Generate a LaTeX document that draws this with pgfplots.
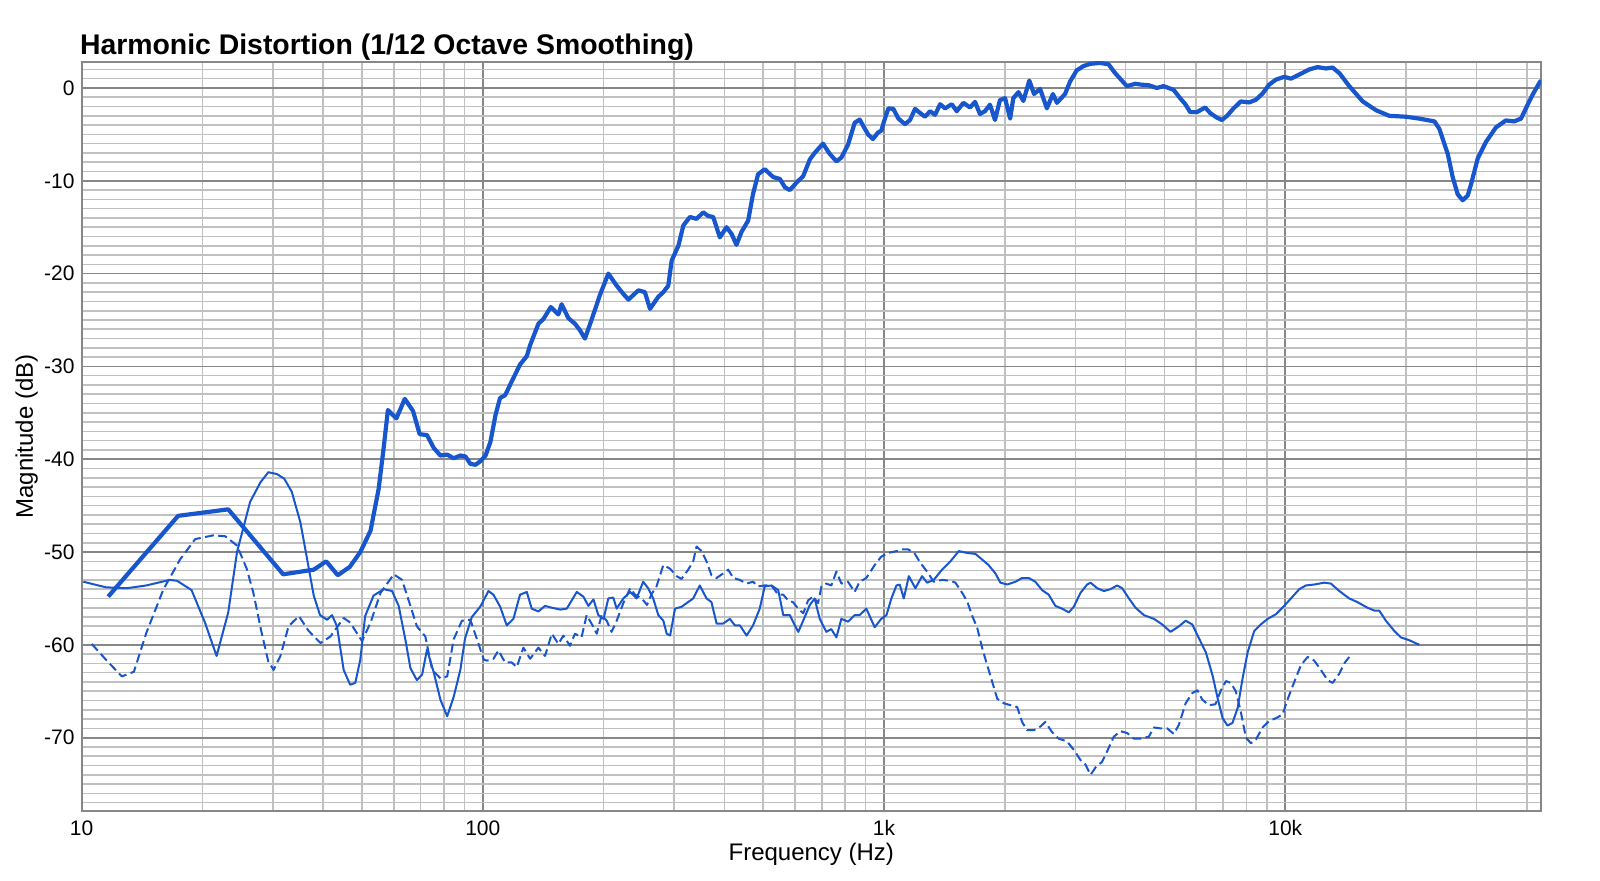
\documentclass[border=0pt]{standalone}
\usepackage{fontspec}
\setmainfont{Liberation Sans}
\usepackage{pgfplots}
\pgfplotsset{compat=1.18}
\definecolor{curve}{RGB}{24,86,206}
\definecolor{majgrid}{RGB}{135,135,135}
\definecolor{mingrid}{RGB}{192,192,192}
\begin{document}
\begin{tikzpicture}
\path[use as bounding box] (-40.8pt,-35pt) rectangle (759.2pt,405.5pt);
\begin{axis}[
  at={(0,0)}, anchor=south west,
  scale only axis, width=729.7pt, height=374.5pt,
  xmode=log, xmin=10, xmax=43400, ymin=-77.9, ymax=2.8,
  xtick={10,100,1000,10000}, xticklabels={10,100,1k,10k},
  minor xtick={20,30,40,50,60,70,80,90,200,300,400,500,600,700,800,900,2000,3000,4000,5000,6000,7000,8000,9000,20000,30000,40000},
  ytick={-70,-60,-50,-40,-30,-20,-10,0},
  yticklabels={-70,-60,-50,-40,-30,-20,-10,0},
  minor ytick={-77,-76,...,2},
  grid=both,
  major grid style={draw=majgrid, line width=0.9pt},
  minor grid style={draw=mingrid, line width=0.8pt},
  axis line style={draw=majgrid, line width=1pt},
  major tick length=0pt, minor tick length=0pt,
  tick style={draw=none},
  ticklabel style={font=\fontsize{10.5}{12}\selectfont},
  xticklabel style={yshift=-1.2pt},
  clip=true,
  every axis plot/.append style={line join=round, color=curve},
]
% fundamental (thick)
\addplot[line width=2.1pt] coordinates {
(11.65,-54.8)(17.4,-46.1)(23.2,-45.4)(31.8,-52.4)(37.9,-51.9)(40.7,-51.0)(43.5,-52.5)(46.6,-51.6)(49.5,-50.0)(52.5,-47.7)(55.0,-43.2)(56.6,-38.8)(58.0,-34.7)(60.9,-35.6)(63.9,-33.5)(67.0,-34.8)(69.6,-37.3)(72.6,-37.4)(75.5,-38.8)(78.4,-39.6)(81.5,-39.5)(84.6,-39.9)(87.9,-39.6)(90.5,-39.7)(93.1,-40.5)(95.9,-40.6)(98.7,-40.2)(101.6,-39.6)(104.5,-38.1)(107.6,-35.2)(110.4,-33.4)(113.7,-33.1)(118.1,-31.6)(123.8,-29.8)(128.7,-28.9)(131.2,-27.7)(137.6,-25.4)(141.6,-24.9)(147.7,-23.6)(154.3,-24.4)(157.2,-23.3)(163.4,-24.8)(169.7,-25.4)(174.6,-26.1)(179.7,-27.0)(186.6,-25.0)(195.9,-22.3)(205.5,-20.0)(215.6,-21.3)(224.1,-22.2)(230.6,-22.8)(244.2,-21.8)(253.5,-22.0)(261.0,-23.8)(273.8,-22.5)(281.8,-22.0)(289.9,-21.3)(295.6,-18.6)(307.2,-17.0)(316.2,-14.8)(328.3,-13.9)(341.0,-14.1)(354.3,-13.4)(364.6,-13.8)(375.2,-13.9)(389.8,-16.1)(404.9,-15.0)(416.6,-15.7)(428.8,-16.9)(441.4,-15.5)(458.4,-14.3)(471.6,-11.4)(485.4,-9.3)(504.2,-8.75)(529.3,-9.6)(550,-9.8)(566.1,-10.7)(582.5,-11.0)(605.2,-10.2)(628.7,-9.5)(653.3,-7.7)(671.6,-7.0)(704.6,-6.0)(732.3,-7.1)(760.9,-7.9)(782.9,-7.5)(813.4,-6.1)(845.1,-3.75)(869.4,-3.4)(912.3,-5.0)(938.4,-5.5)(966.1,-4.8)(984.4,-4.6)
(1000,-3.6)(1025,-2.2)(1055,-2.25)(1086,-3.3)(1128,-3.9)(1161,-3.45)(1195,-2.25)(1230,-2.7)(1265,-3.1)(1303,-2.5)(1340,-2.9)(1380,-1.75)(1420,-2.2)(1475,-1.75)(1518,-2.5)(1577,-1.6)(1638,-2.1)(1686,-1.5)(1734,-2.8)(1785,-2.5)(1837,-1.8)(1891,-3.45)(1946,-1.3)(2003,-1.1)(2062,-3.3)(2100,-1.1)(2163,-0.45)(2225,-1.4)(2302,0.8)(2365,-0.65)(2449,-0.1)(2546,-2.2)(2636,-0.65)(2698,-1.6)(2826,-0.65)(2909,0.7)(3022,1.9)(3139,2.35)(3263,2.6)(3456,2.7)(3627,2.55)(3767,1.6)(3878,1.0)(4030,0.2)(4227,0.45)(4393,0.35)(4563,0.3)(4786,0)(4975,0.2)(5117,0)(5268,-0.2)(5470,-1.1)(5636,-1.75)(5796,-2.6)(6025,-2.6)(6315,-2.1)(6500,-2.7)(6757,-3.2)(6950,-3.45)(7160,-3.0)(7433,-2.2)(7750,-1.45)(8130,-1.56)(8450,-1.27)(8780,-0.6)(9120,0.36)(9480,0.9)(9940,1.2)(10330,1.0)(10840,1.45)(11480,2.0)(12040,2.25)(12630,2.1)(13120,2.2)(13640,1.6)(14440,0.2)(15600,-1.45)(16840,-2.4)(18170,-3.0)(20000,-3.1)(21570,-3.3)(23540,-3.6)(24210,-4.4)(25410,-7.1)(26140,-9.6)(26900,-11.45)(27680,-12.1)(28490,-11.6)(29040,-10.4)(30180,-7.6)(31660,-5.8)(33510,-4.25)(35460,-3.5)(37200,-3.6)(38690,-3.3)(40200,-1.8)(41390,-0.7)(42980,0.55)(43400,0.8)
};
% second harmonic (thin solid)
\addplot[line width=1.0pt] coordinates {
(10.1,-53.2)(11.5,-53.8)(12.95,-53.9)(14.5,-53.6)(16.6,-53.0)(17.3,-53.1)(18.8,-54.1)(20.3,-57.6)(21.7,-61.2)(23.2,-56.5)(24.4,-50.0)(26.3,-44.6)(27.9,-42.5)(29.2,-41.4)(30.7,-41.6)(32.0,-42.1)(33.4,-43.5)(35.1,-46.8)(36.5,-50.8)(37.9,-54.7)(39.3,-56.8)(40.9,-57.3)(42.1,-56.8)(43.3,-58.0)(45.0,-62.7)(46.7,-64.3)(48.1,-64.1)(49.5,-61.6)(50.9,-56.9)(53.4,-54.7)(56.6,-54.0)(59.4,-54.2)(61.7,-55.8)(64.1,-59.4)(66.0,-62.5)(68.5,-63.8)(70.6,-63.2)(72.6,-60.5)(75.5,-63.0)(78.4,-65.9)(81.5,-67.7)(84.6,-65.6)(87.9,-62.7)(90.3,-59.3)(93.9,-57.0)(98.5,-55.9)(103.3,-54.2)(106.3,-54.6)(110.5,-55.9)(114.7,-57.9)(119.2,-57.2)(123.8,-54.6)(128.7,-54.3)(132.4,-56.1)(137.6,-56.4)(142.9,-55.8)(148.6,-56.0)(155.9,-56.2)(161.9,-56.1)(171.5,-54.3)(178.1,-54.8)(183.3,-55.8)(188.7,-55.1)(194.1,-56.8)(200,-57.2)(205.5,-55.0)(211.4,-54.9)(215.6,-56.1)(224,-55.0)(233,-54.3)(241.7,-55.0)(251,-53.2)(258.4,-53.9)(265.9,-55.0)(273.8,-56.8)(281.8,-57.4)(287.3,-58.8)(293,-59.0)(301.3,-56.1)(312.8,-55.9)(322.2,-55.5)(334.5,-55.0)(347.4,-53.6)(361.1,-55.0)(371.5,-55.4)(382.5,-57.7)(397.4,-57.7)(412.9,-57.2)(424.8,-57.9)(437.3,-57.9)(454.4,-59.0)(471.6,-57.9)(490,-56.1)(504.2,-53.7)(524.4,-53.6)(544.9,-54.1)(560.9,-56.8)(582.5,-56.8)(599.4,-57.9)(611.4,-58.6)(628.7,-57.4)(653.3,-55.7)(671.6,-55.0)(691.4,-57.2)(718.2,-58.6)(738.9,-58.3)(760.9,-59.2)(782.9,-57.2)(813.4,-57.5)(845,-56.8)(869,-56.8)(903.4,-56.1)(947.8,-58.1)(984,-57.2)(1014,-56.8)(1043,-55.0)(1074,-53.6)(1094,-53.5)(1120,-55.0)(1153,-52.6)(1197,-53.9)(1244,-52.6)(1280,-53.3)(1330,-53.0)(1395,-51.9)(1464,-51.0)(1536,-49.9)(1611,-50.1)(1690,-50.2)(1755,-50.8)(1822,-51.4)(1895,-52.3)(1950,-53.3)(2027,-53.5)(2127,-53.2)(2208,-52.8)(2295,-52.8)(2383,-53.2)(2477,-54.1)(2574,-54.6)(2673,-55.8)(2778,-56.1)(2888,-56.5)(2971,-55.9)(3087,-54.4)(3208,-53.5)(3272,-53.3)(3399,-53.9)(3532,-54.2)(3668,-54.0)(3811,-53.6)(3924,-53.9)(4077,-55.0)(4236,-56.0)(4444,-56.8)(4707,-57.2)(4935,-57.8)(5178,-58.6)(5433,-58.0)(5646,-57.4)(5865,-57.8)(6094,-59.3)(6340,-60.8)(6590,-63.3)(6780,-65.7)(6980,-67.9)(7180,-68.7)(7390,-68.4)(7610,-66.8)(7830,-63.6)(8060,-60.8)(8370,-58.5)(8690,-57.8)(9040,-57.2)(9480,-56.7)(9940,-55.8)(10330,-55.0)(10840,-54.0)(11260,-53.6)(11810,-53.5)(12500,-53.3)(13000,-53.4)(13640,-54.2)(14440,-55.0)(15140,-55.4)(16030,-56.0)(16670,-56.3)(17150,-56.3)(17820,-57.4)(18700,-58.5)(19420,-59.2)(20380,-59.5)(21590,-60.0)
};
% third harmonic (dashed)
\addplot[line width=1.0pt, dash pattern=on 4.5pt off 2.2pt] coordinates {
(10.6,-59.9)(11.5,-61.6)(12.6,-63.4)(13.5,-62.9)(14.5,-58.7)(16.0,-54.0)(17.6,-50.8)(19.2,-48.6)(21.3,-48.2)(22.8,-48.3)(24.4,-49.3)(25.8,-51.8)(26.8,-54.4)(28.1,-58.7)(29.2,-61.8)(30.1,-62.7)(31.3,-61.2)(32.8,-58.0)(34.8,-56.9)(36.8,-58.5)(39.4,-59.8)(41.7,-59.1)(45.0,-57.1)(46.7,-57.6)(50.0,-59.6)(52.5,-57.6)(55.6,-54.4)(60.0,-52.4)(62.9,-53.0)(66.0,-55.8)(68.5,-58.0)(71.9,-59.1)(74.8,-62.7)(78.4,-63.6)(81.5,-63.4)(84.6,-59.4)(88.7,-57.4)(93.1,-57.3)(96.7,-59.4)(100.6,-61.6)(102.3,-61.7)(106.3,-61.5)(109.4,-60.6)(113.6,-61.9)(118.1,-61.9)(121.5,-62.4)(126.2,-60.3)(131.2,-61.5)(137.6,-60.3)(142.9,-61.2)(148.6,-58.8)(154.3,-59.9)(158.8,-59.0)(164.9,-60.1)(169.7,-58.8)(176.2,-59.2)(181.5,-56.8)(186.6,-57.7)(192.3,-58.8)(197.8,-56.8)(203.6,-57.4)(209.4,-58.6)(215.6,-57.4)(224,-55.5)(233,-53.9)(239.6,-54.6)(249,-55.0)(256.6,-55.7)(263.6,-54.5)(271,-53.7)(281.8,-51.4)(293,-51.8)(304.3,-52.6)(312.8,-52.9)(325,-51.9)(334.5,-51.0)(341,-49.4)(350.9,-49.9)(361,-51.0)(371.5,-52.5)(382.5,-52.8)(397.4,-52.3)(409,-51.9)(421,-52.8)(437,-53.0)(454,-53.4)(471.6,-53.2)(485,-53.7)(504,-53.6)(524,-53.6)(545,-54.6)(561,-54.6)(576.5,-55.2)(593,-55.4)(611,-56.1)(629,-56.6)(647,-55.2)(665.6,-54.8)(685,-55.5)(698.5,-53.7)(718,-53.4)(739,-53.6)(761,-52.1)(783,-53.4)(813,-53.2)(845,-54.3)(869,-53.2)(903,-52.8)(948,-51.4)(984,-50.5)(1023,-50.1)(1074,-49.9)(1115,-49.7)(1147,-49.7)(1190,-50.1)(1233,-51.2)(1280,-52.1)(1330,-53.2)(1395,-53.0)(1464,-53.1)(1507,-53.3)(1566,-54.4)(1611,-55.3)(1660,-56.9)(1708,-58.2)(1758,-60.4)(1808,-62.2)(1861,-64.0)(1915,-65.8)(1990,-66.3)(2066,-66.5)(2147,-66.7)(2208,-68.3)(2274,-69.2)(2360,-69.2)(2454,-68.8)(2523,-68.3)(2623,-69.4)(2723,-70.1)(2857,-70.4)(2971,-71.3)(3087,-72.4)(3178,-72.9)(3272,-74.0)(3367,-73.2)(3496,-72.6)(3596,-71.5)(3738,-69.9)(3884,-69.3)(4035,-69.5)(4194,-70.1)(4357,-70.1)(4570,-69.9)(4707,-68.9)(4890,-69.0)(5079,-69.0)(5277,-69.6)(5433,-68.6)(5646,-66.3)(5865,-65.2)(6044,-64.9)(6211,-65.9)(6455,-66.5)(6700,-66.4)(6914,-64.9)(7116,-63.9)(7320,-64.1)(7530,-65.0)(7750,-67.2)(7980,-70.0)(8210,-70.6)(8450,-70.2)(8780,-68.9)(9120,-68.2)(9480,-67.9)(9850,-67.5)(10130,-65.9)(10530,-64.0)(10940,-62.2)(11370,-61.3)(11810,-61.7)(12270,-62.7)(12750,-63.8)(13120,-64.1)(13640,-63.1)(14030,-62.0)(14440,-61.3)
};
\end{axis}
\node[anchor=base west, inner sep=0pt, font=\fontsize{14.2}{16}\selectfont\bfseries] at (-1pt,378pt) {Harmonic Distortion (1/12 Octave Smoothing)};
\node[anchor=base, inner sep=0pt, font=\fontsize{12}{14}\selectfont] at (364.85pt,-25pt) {Frequency (Hz)};
\node[anchor=base, rotate=90, inner sep=0pt, font=\fontsize{12}{14}\selectfont] at (-24.3pt,187.25pt) {Magnitude (dB)};
\end{tikzpicture}
\end{document}
